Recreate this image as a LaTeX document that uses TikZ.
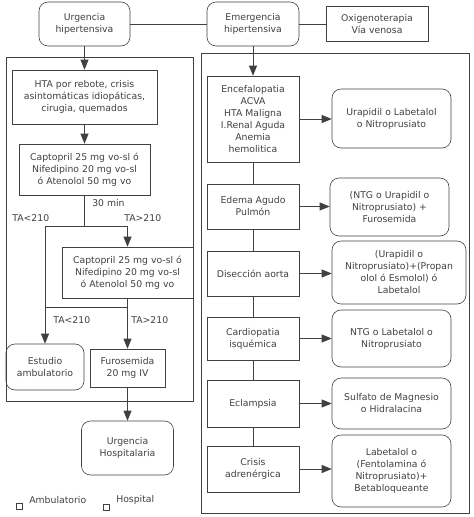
\documentclass[tikz,border=0pt]{standalone}
\usepackage{fontspec}
\setmainfont{DejaVu Sans}
\usetikzlibrary{arrows.meta}
\definecolor{linegray}{gray}{0.25}
\tikzset{
  box/.style={draw, align=center, inner sep=1pt, font=\fontsize{9.3}{12}\selectfont},
  roundbox/.style={box, rounded corners=9pt},
  arr/.style={-{Triangle[length=10pt,width=8pt]}},
  lbl/.style={inner sep=0pt, font=\fontsize{9.3}{12}\selectfont}
}
\begin{document}
\begin{tikzpicture}[x=1pt, y=-1pt, line width=0.6pt, color=linegray]
				\useasboundingbox (0,0) rectangle (474,517);
				
				\draw (6,57) rectangle (193,401);
				\draw (201,53) rectangle (469,513);
				
				\node [roundbox, minimum width=91pt, minimum height=44pt] (urg) at (84.5,24) {Urgencia\\hipertensiva};
				\node [roundbox, minimum width=92pt, minimum height=44pt] (emer) at (253,24) {Emergencia\\hipertensiva};
				\node [box, line width=1pt, minimum width=102pt, minimum height=35pt] (oxi) at (377,24) {Oxigenoterapia\\Vía venosa};
				
				\node [box, minimum width=145pt, minimum height=54pt] (hta) at (84.5,97) {HTA por rebote, crisis\\asintomáticas idiopáticas,\\cirugia, quemados};
				\node [box, minimum width=131pt, minimum height=51pt] (cap1) at (84.5,169.5) {Captopril 25 mg vo-sl ó\\Nifedipino 20 mg vo-sl\\ó Atenolol 50 mg vo};
				\node [box, minimum width=131pt, minimum height=51pt] (cap2) at (127.5,272.5) {Captopril 25 mg vo-sl ó\\Nifedipino 20 mg vo-sl\\ó Atenolol 50 mg vo};
				\node [roundbox, minimum width=78pt, minimum height=46pt] (estudio) at (45,367) {Estudio\\ambulatorio};
				\node [box, minimum width=75pt, minimum height=38pt] (furo) at (127.5,368) {Furosemida\\20 mg IV};
				\node [roundbox, minimum width=92pt, minimum height=54pt] (hosp) at (127.5,448) {Urgencia\\Hospitalaria};
				
				\coordinate (split1) at (84.5,226);
				\coordinate (left1) at (45,226);
				\coordinate (right1) at (127.5,226);
				\coordinate (split2) at (127.5,307);
				\coordinate (left2) at (45,307);
				
				\draw (urg) -- (emer);
				\draw (emer) -- (oxi);
				\draw [arr] (urg) -- (hta);
				\draw [arr] (hta) -- (cap1);
				\draw (cap1) -- (split1);
				\draw (left1) -- (right1);
				\draw [arr] (right1) -- (cap2);
				\draw [arr] (left1) -- (estudio);
				\draw (cap2) -- (split2) -- (left2);
				\draw [arr] (split2) -- (furo);
				\draw [arr] (furo) -- (hosp);
				
				\node [lbl, anchor=west] (min30) at (92,203) {30 min};
				\node [lbl, anchor=west] (lt1) at (12,218) {TA<210};
				\node [lbl, anchor=west] (gt1) at (124,218) {TA>210};
				\node [lbl, anchor=west] (lt2) at (53,320) {TA<210};
				\node [lbl, anchor=west] (gt2) at (131,320) {TA>210};
				
				\node [box, minimum width=92pt, minimum height=86pt] (enc) at (253,119) {Encefalopatia\\ACVA\\HTA Maligna\\I.Renal Aguda\\Anemia\\hemolitica};
				\node [box, minimum width=92pt, minimum height=45pt] (edema) at (253,206.5) {Edema Agudo\\Pulmón};
				\node [box, minimum width=92pt, minimum height=45pt] (dis) at (253,273.5) {Disección aorta};
				\node [box, minimum width=92pt, minimum height=43pt] (card) at (253,338.5) {Cardiopatia\\isquémica};
				\node [box, minimum width=92pt, minimum height=47pt] (ecl) at (253,403.5) {Eclampsia};
				\node [box, minimum width=92pt, minimum height=46pt] (cri) at (253,469) {Crisis\\adrenérgica};
				
				\node [roundbox, minimum width=119pt, minimum height=59pt] (t1) at (391.5,118.5) {Urapidil o Labetalol\\o Nitroprusiato};
				\node [roundbox, minimum width=119pt, minimum height=58pt] (t2) at (389.5,207) {(NTG o Urapidil o\\Nitroprusiato) +\\Furosemida};
				\node [roundbox, minimum width=134pt, minimum height=63pt] (t3) at (399,272.5) {(Urapidil o\\Nitroprusiato)+(Propan\\olol ó Esmolol) ó\\Labetalol};
				\node [roundbox, minimum width=119pt, minimum height=57pt] (t4) at (391.5,338.5) {NTG o Labetalol o\\Nitroprusiato};
				\node [roundbox, minimum width=119pt, minimum height=51pt] (t5) at (391.5,403.5) {Sulfato de Magnesio\\o Hidralacina};
				\node [roundbox, minimum width=119pt, minimum height=72pt] (t6) at (391.5,471) {Labetalol o\\(Fentolamina ó\\Nitroprusiato)+\\Betabloqueante};
				
				\draw [arr] (emer) -- (enc);
				\draw (enc) -- (edema) -- (dis) -- (card) -- (ecl) -- (cri);
				\foreach \a/\b in {enc/t1, edema/t2, dis/t3, card/t4, ecl/t5, cri/t6}
				  \draw [arr] (\a.east) -- (\a.east -| \b.west);
				
				\node [draw, minimum size=6pt, inner sep=0pt] (sqamb) at (19,506.5) {};
				\node [lbl, anchor=west] (amb) at (29,500) {Ambulatorio};
				\node [draw, minimum size=6pt, inner sep=0pt] (sqhosp) at (106.5,507) {};
				\node [lbl, anchor=west] (hos) at (116,500) {Hospital};
				\end{tikzpicture}
\end{document}
